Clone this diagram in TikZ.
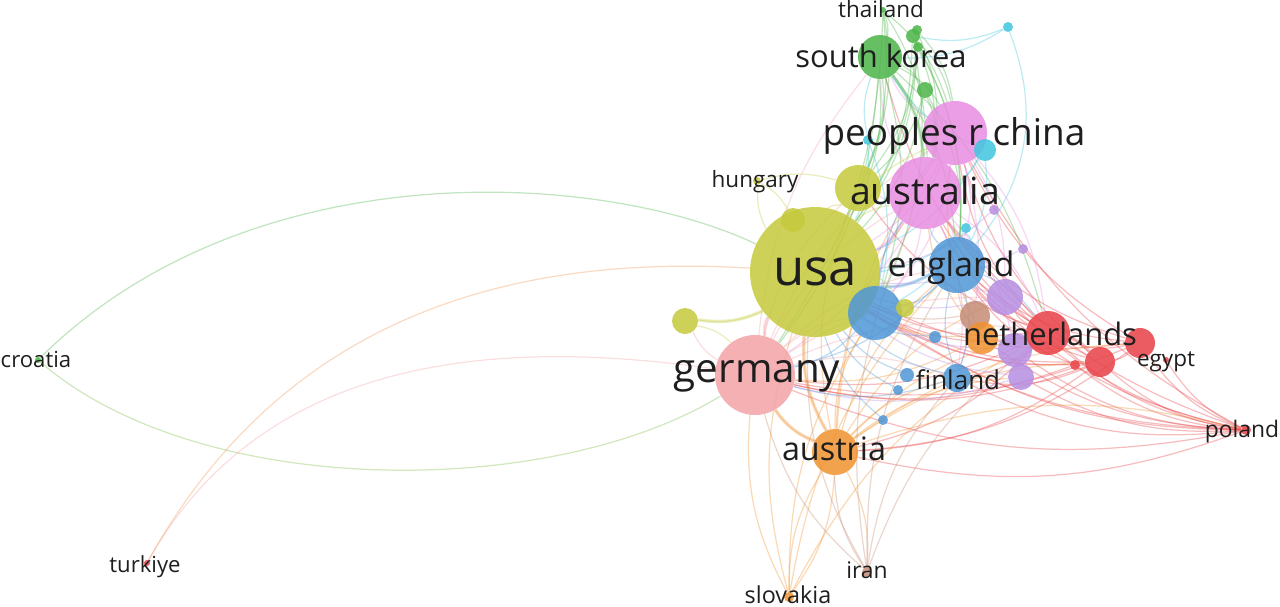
\documentclass[tikz,border=0pt]{standalone}
\usepackage{fontspec}
\setmainfont{Open Sans}
\usetikzlibrary{backgrounds}

\definecolor{yelc}{RGB}{197,201,59}
\definecolor{pnkc}{RGB}{243,162,167}
\definecolor{magc}{RGB}{232,140,224}
\definecolor{grnc}{RGB}{76,180,72}
\definecolor{cyac}{RGB}{64,198,222}
\definecolor{bluc}{RGB}{78,150,214}
\definecolor{purc}{RGB}{182,142,226}
\definecolor{redc}{RGB}{232,64,70}
\definecolor{orac}{RGB}{240,145,45}
\definecolor{brnc}{RGB}{196,140,118}
\definecolor{txtc}{RGB}{30,30,30}

\newcommand{\fsz}[1]{\fontsize{#1}{#1}\selectfont}

\begin{document}
\begin{tikzpicture}[x=0.02cm,y=-0.02cm,
  bub/.style 2 args={circle, inner sep=0pt, draw=none, fill=#1, fill opacity=.85, minimum size=#2*0.4mm},
  lab/.style={text=txtc, inner sep=0pt, anchor=base},
  edge/.style={line width=.7pt, draw opacity=.35, bend left=16},
  fat/.style={line width=2pt, draw opacity=.3}]
\useasboundingbox (0,0) rectangle (1280,606);

% big nodes
\node[bub={yelc}{65}] (usa) at (815,272) {};
\node[bub={pnkc}{40}] (germany) at (755,375) {};
\node[bub={magc}{32}] (china) at (955,133) {};
\node[bub={magc}{36}] (australia) at (925,193) {};
\node[bub={yelc}{23}] (canada) at (858,188) {};
\node[bub={grnc}{22}] (southkorea) at (880,57) {};
\node[bub={bluc}{28}] (england) at (957,265) {};
\node[bub={bluc}{27}] (blueA) at (875,313) {};
\node[bub={orac}{23}] (austria) at (835,452) {};
% green group
\node[bub={grnc}{3}] (thailand) at (883,10) {};
\node[bub={grnc}{7}] (grnA) at (913,36) {};
\node[bub={grnc}{5}] (grnB) at (917,30) {};
\node[bub={grnc}{5}] (grnC) at (918,47) {};
\node[bub={grnc}{8}] (grnD) at (925,90) {};
\node[bub={grnc}{3}] (croatia) at (38,360) {};
% cyan group
\node[bub={cyac}{5}] (cyaA) at (1008,27) {};
\node[bub={cyac}{11}] (cyaB) at (985,150) {};
\node[bub={cyac}{5}] (cyaC) at (868,140) {};
\node[bub={cyac}{5}] (cyaD) at (966,228) {};
% yellow group
\node[bub={yelc}{4}] (hungary) at (757,181) {};
\node[bub={yelc}{12}] (yelA) at (793,220) {};
\node[bub={yelc}{13}] (yelB) at (685,321) {};
\node[bub={yelc}{9}] (yelC) at (905,308) {};
% purple group
\node[bub={purc}{5}] (purA) at (994,210) {};
\node[bub={purc}{18}] (purB) at (1005,297) {};
\node[bub={purc}{5}] (purC) at (1023,249) {};
\node[bub={brnc}{15}] (brnA) at (975,316) {};
\node[bub={orac}{16}] (oraA) at (982,338) {};
\node[bub={purc}{17}] (purD) at (1015,350) {};
\node[bub={purc}{13}] (purE) at (1021,377) {};
% red group
\node[bub={redc}{22}] (netherlands) at (1048,333) {};
\node[bub={redc}{15}] (redA) at (1100,362) {};
\node[bub={redc}{15}] (redB) at (1140,343) {};
\node[bub={redc}{5}] (redC) at (1075,365) {};
\node[bub={redc}{3}] (egypt) at (1166,360) {};
\node[bub={redc}{5}] (poland) at (1246,430) {};
\node[bub={redc}{3}] (turkiye) at (147,563) {};
% blue group
\node[bub={bluc}{14}] (finland) at (957,378) {};
\node[bub={bluc}{6}] (bluB) at (935,337) {};
\node[bub={bluc}{7}] (bluC) at (907,375) {};
\node[bub={bluc}{5}] (bluD) at (898,390) {};
\node[bub={bluc}{5}] (bluE) at (883,420) {};
% bottom
\node[bub={orac}{5}] (slovakia) at (789,597) {};
\node[bub={brnc}{5}] (iran) at (867,572) {};

\begin{scope}[on background layer]
% long links
\draw[edge, draw=grnc] (croatia) .. controls (250,150) and (600,170) .. (usa);
\draw[edge, draw=grnc!60!yelc] (croatia) .. controls (200,500) and (550,500) .. (germany);
\draw[edge, draw=pnkc] (turkiye) .. controls (250,380) and (450,330) .. (germany);
\draw[edge, draw=orac!70!pnkc] (turkiye) .. controls (260,360) and (450,250) .. (usa);
% main bundles
\draw[edge, fat, draw=pnkc] (germany) to (usa);
\draw[edge, fat, draw=orac] (austria) to (germany);
\draw[edge, fat, draw=orac] (austria) to (usa);
\draw[edge, fat, draw=yelc] (usa) to (yelB);
\draw[edge, fat, draw=bluc] (england) to (usa);
\draw[edge, fat, draw=magc] (australia) to (usa);
\draw[edge, fat, draw=redc] (netherlands) to (redA);
\draw[edge, fat, draw=grnc] (southkorea) to (australia);
% red
\foreach \t in {netherlands,redA,redB,redC,england,germany,usa,australia,china,austria,finland,purD,purE,oraA,blueA,purB,egypt}
  \draw[edge, draw=redc] (poland) to (\t);
\foreach \t in {usa,germany,england,australia,china,austria,finland,southkorea,purB,blueA,canada,oraA}
  \draw[edge, draw=redc] (netherlands) to (\t);
\foreach \t in {usa,germany,england,australia,austria,china,finland,blueA}
  \draw[edge, draw=redc] (redA) to (\t);
\foreach \t in {usa,germany,england,australia,netherlands,redA,austria,china}
  \draw[edge, draw=redc] (redB) to (\t);
\foreach \t in {usa,germany,england}
  \draw[edge, draw=redc] (redC) to (\t);
% orange
\foreach \t in {usa,germany,england,netherlands,redA,finland,australia,china,blueA,slovakia,iran,redB,purE,canada,purB,poland}
  \draw[edge, draw=orac] (austria) to (\t);
\foreach \t in {germany,usa,austria,england,blueA,netherlands}
  \draw[edge, draw=orac] (slovakia) to (\t);
\foreach \t in {usa,germany,australia,china,england}
  \draw[edge, draw=orac] (oraA) to (\t);
% pink
\foreach \t in {usa,china,australia,england,southkorea,finland,purB,blueA,yelB,canada,netherlands}
  \draw[edge, draw=pnkc] (germany) to (\t);
% magenta
\foreach \t in {usa,england,southkorea,netherlands,finland,blueA,cyaB,purB,germany}
  \draw[edge, draw=magc] (china) to (\t);
\foreach \t in {usa,england,southkorea,finland,blueA,purD,canada,netherlands}
  \draw[edge, draw=magc] (australia) to (\t);
% green
\foreach \t in {usa,australia,china,germany,england,canada,grnD,blueA,netherlands}
  \draw[edge, draw=grnc] (southkorea) to (\t);
\foreach \t in {usa,southkorea,china,australia,canada,germany}
  \draw[edge, draw=grnc] (thailand) to (\t);
\foreach \t in {usa,china,australia,england,blueA}
  \draw[edge, draw=grnc] (grnA) to (\t);
\foreach \t in {usa,australia,china}
  \draw[edge, draw=grnc] (grnB) to (\t);
\foreach \t in {usa,canada,england}
  \draw[edge, draw=grnc] (grnC) to (\t);
\foreach \t in {usa,australia,england,canada}
  \draw[edge, draw=grnc] (grnD) to (\t);
% cyan
\draw[edge, draw=cyac] (cyaA) to (southkorea);
\draw[edge, draw=cyac] (cyaA) to (grnA);
\draw[edge, draw=cyac, bend left=30] (cyaA) to (england);
\foreach \t in {usa,england,australia,southkorea}
  \draw[edge, draw=cyac] (cyaB) to (\t);
\foreach \t in {usa,southkorea,blueA}
  \draw[edge, draw=cyac] (cyaC) to (\t);
\foreach \t in {usa,england,blueA}
  \draw[edge, draw=cyac] (cyaD) to (\t);
% blue
\foreach \t in {usa,finland,germany,blueA,australia,netherlands}
  \draw[edge, draw=bluc] (england) to (\t);
\foreach \t in {usa,germany,australia,china}
  \draw[edge, draw=bluc] (blueA) to (\t);
\foreach \t in {usa,germany,england}
  \draw[edge, draw=bluc] (finland) to (\t);
\foreach \s in {bluB,bluC,bluD,bluE}
  \draw[edge, draw=bluc] (\s) to (usa);
% yellow
\foreach \t in {hungary,yelA,yelB,yelC,canada,australia,china}
  \draw[edge, draw=yelc] (usa) to (\t);
\draw[edge, draw=yelc] (hungary) to (canada);
\draw[edge, draw=yelc] (hungary) to (yelA);
\draw[edge, draw=yelc] (yelB) to (germany);
% purple
\foreach \s in {purB,purD,purE,purA,purC}
  \draw[edge, draw=purc] (\s) to (usa);
\draw[edge, draw=purc] (purB) to (england);
\draw[edge, draw=purc] (purE) to (germany);
% brown
\foreach \t in {usa,germany,england,netherlands,austria,finland,australia}
  \draw[edge, draw=brnc] (iran) to (\t);
\draw[edge, draw=brnc] (brnA) to (usa);
\end{scope}

% labels
\node[lab, font=\fsz{29}] (usa-t) at (815,285) {usa};
\node[lab, font=\fsz{23}] (germany-t) at (757,382) {germany};
\node[lab, font=\fsz{21}] (china-t) at (954,145) {peoples r china};
\node[lab, font=\fsz{21.3}] (australia-t) at (925,204) {australia};
\node[lab, font=\fsz{19.2}] (england-t) at (951,276) {england};
\node[lab, font=\fsz{17.6}] (southkorea-t) at (881,67) {south korea};
\node[lab, font=\fsz{17.6}] (netherlands-t) at (1050,345) {netherlands};
\node[lab, font=\fsz{18.4}] (austria-t) at (834,460) {austria};
\node[lab, font=\fsz{14.8}] (finland-t) at (958,389) {finland};
\node[lab, font=\fsz{12.8}] (thailand-t) at (881,17) {thailand};
\node[lab, font=\fsz{12.8}] (hungary-t) at (755,187) {hungary};
\node[lab, font=\fsz{12.8}] (egypt-t) at (1166,366) {egypt};
\node[lab, font=\fsz{13}] (poland-t) at (1242,437) {poland};
\node[lab, font=\fsz{13}] (iran-t) at (867,578) {iran};
\node[lab, font=\fsz{13.3}] (slovakia-t) at (788,603) {slovakia};
\node[lab, font=\fsz{12.6}] (croatia-t) at (36,367) {croatia};
\node[lab, font=\fsz{12.6}] (turkiye-t) at (145,572) {turkiye};
\end{tikzpicture}
\end{document}
